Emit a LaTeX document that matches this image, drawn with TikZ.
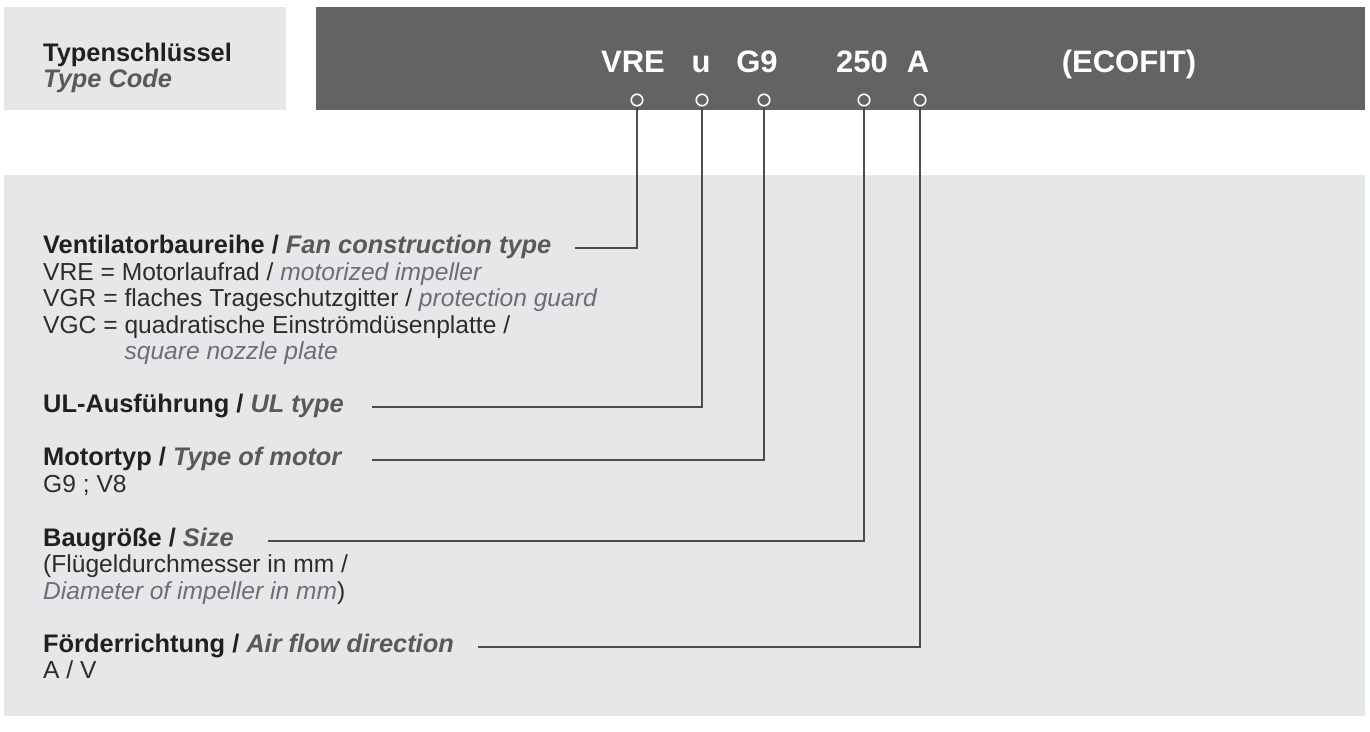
\documentclass[tikz,border=0pt]{standalone}
\usepackage{fontspec}
\setmainfont{Liberation Sans}
\definecolor{bar}{HTML}{636365}
\definecolor{panel}{HTML}{E6E7E8}
\definecolor{ink}{HTML}{231F20}
\definecolor{bodyink}{HTML}{2E2B2C}
\definecolor{itink}{HTML}{58595B}
\definecolor{ltink}{HTML}{6D6E71}
\definecolor{wire}{HTML}{4D4D4F}
\begin{document}
\begin{tikzpicture}[x=1pt,y=-1pt,
  codetxt/.style={font=\fontsize{31}{31}\selectfont\bfseries, text=white, inner sep=0pt, anchor=base},
  pin/.style={circle, draw=white, line width=1.6pt, fill=bar, minimum size=11.5pt, inner sep=0pt},
  head/.style={font=\fontsize{25.4}{26.5}\selectfont\bfseries, text=ink, inner sep=0pt, anchor=base west},
  body/.style={font=\fontsize{24.6}{26.5}\selectfont, text=bodyink, inner sep=0pt, anchor=base west},
  conn/.style={draw=wire, line width=2pt},
]
\useasboundingbox (0,0) rectangle (1370,731);
\fill[white] (0,0) rectangle (1370,731);
\fill[panel] (4,7) rectangle (286,110);
\fill[bar] (316,7) rectangle (1365,110);
\fill[panel] (4,175) rectangle (1365,716);

% title
\node[head] (t1) at (43,61) {Typenschlüssel};
\node[head, text=itink] (t2) at (43,87) {\itshape Type Code};

% code
\node[codetxt] (kVRE) at (633,72) {VRE};
\node[codetxt] (ku) at (701,72) {u};
\node[codetxt] (kG) at (757,72) {G9};
\node[codetxt] (kS) at (862,72) {250};
\node[codetxt] (kA) at (918,72) {A};
\node[codetxt] (kE) at (1129,72) {(ECOFIT)};

\node[pin] (c1) at (637,100) {};
\node[pin] (c2) at (702,100) {};
\node[pin] (c3) at (764,100) {};
\node[pin] (c4) at (864,100) {};
\node[pin] (c5) at (920,100) {};

% headings and descriptions
\node[head] (h1) at (43,253.5) {Ventilatorbaureihe / \textcolor{itink}{\itshape Fan construction type}};
\node[body] (b1) at (43,280) {VRE = Motorlaufrad / \textcolor{ltink}{\itshape motorized impeller}};
\node[body] (b2) at (43,306.5) {VGR = flaches Trageschutzgitter / \textcolor{ltink}{\itshape protection guard}};
\node[body] (b3) at (43,333) {VGC = quadratische Einströmdüsenplatte /};
\node[body] (b4) at (43,359.5) {\phantom{VGC = }\textcolor{ltink}{\itshape square nozzle plate}};

\node[head] (h2) at (43,412.5) {UL-Ausführung / \textcolor{itink}{\itshape UL type}};

\node[head] (h3) at (43,465.5) {Motortyp / \textcolor{itink}{\itshape Type of motor}};
\node[body] (b5) at (43,492) {G9 ; V8};

\node[head] (h4) at (43,546.5) {Baugröße / \textcolor{itink}{\itshape Size}};
\node[body] (b6) at (43,572.5) {(Flügeldurchmesser in mm /};
\node[body] (b7) at (43,599) {\textcolor{ltink}{\itshape Diameter of impeller in mm})};

\node[head] (h5) at (43,652.5) {Förderrichtung / \textcolor{itink}{\itshape Air flow direction}};
\node[body] (b8) at (43,678) {A / V};

% connector start points
\coordinate (s1) at (575,248);
\coordinate (s2) at (372,407);
\coordinate (s3) at (372,460);
\coordinate (s4) at (268,541);
\coordinate (s5) at (478,647);

\draw[conn] (s1) -| (c1.south);
\draw[conn] (s2) -| (c2.south);
\draw[conn] (s3) -| (c3.south);
\draw[conn] (s4) -| (c4.south);
\draw[conn] (s5) -| (c5.south);
\end{tikzpicture}
\end{document}
